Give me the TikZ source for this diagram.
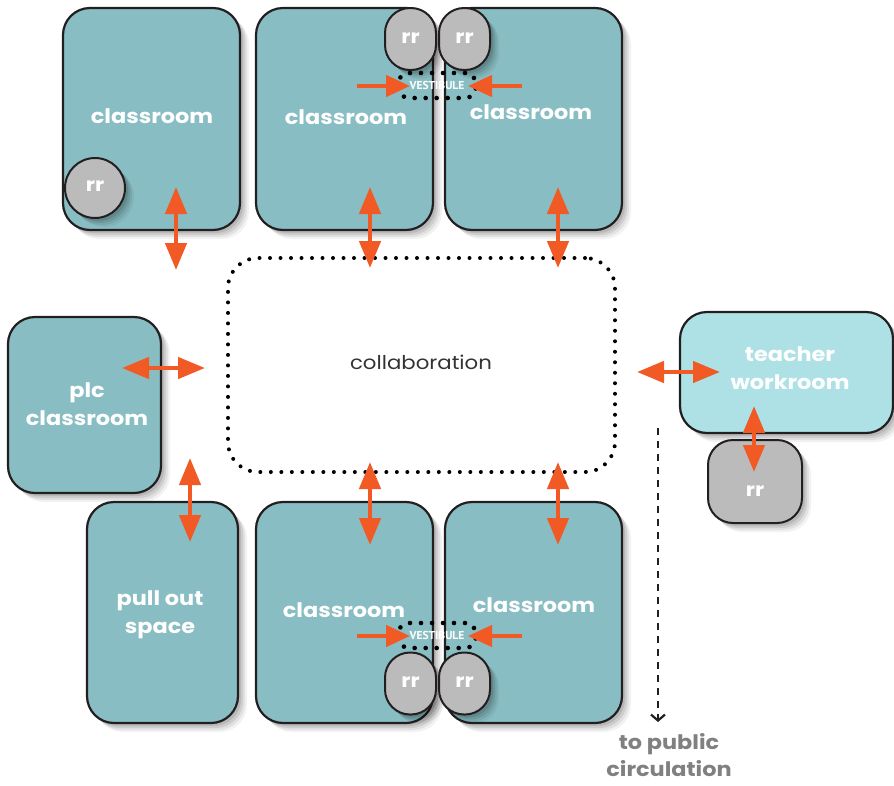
\documentclass[tikz,border=0pt]{standalone}
\usepackage{fontspec}
\setmainfont{Poppins}
\newfontfamily\gfont{Poppins}[FakeStretch=1.12]
\newfontfamily\vfont{PT Sans}
\usetikzlibrary{arrows.meta,shadows}
\definecolor{teal}{HTML}{88BDC3}
\definecolor{lcyan}{HTML}{ADE1E6}
\definecolor{rrgray}{HTML}{BBBBBB}
\definecolor{edge}{HTML}{231F20}
\definecolor{orng}{HTML}{F15A24}
\definecolor{txtgray}{HTML}{808080}
\definecolor{dk}{HTML}{333333}
\tikzset{
  shad/.style={
    drop shadow={shadow xshift=9pt,shadow yshift=-9pt,opacity=0.05,fill=black},
    drop shadow={shadow xshift=7pt,shadow yshift=-7pt,opacity=0.07,fill=black},
    drop shadow={shadow xshift=5pt,shadow yshift=-5pt,opacity=0.09,fill=black},
    drop shadow={shadow xshift=3pt,shadow yshift=-3pt,opacity=0.10,fill=black}},
  room/.style={draw=edge,line width=2.2pt,fill=teal,rounded corners=27pt,shad,inner sep=0pt},
  rrpill/.style={draw=edge,line width=2pt,fill=rrgray,rounded corners=25pt,shad,inner sep=0pt,minimum width=51pt,minimum height=62pt},
  lbl/.style={text=white,align=center,font=\gfont\bfseries\fontsize{20}{28}\selectfont,inner sep=0pt},
  rrlbl/.style={text=white,font=\gfont\bfseries\fontsize{19}{22}\selectfont,inner sep=0pt},
  dots/.style={draw=black,line width=4pt,line cap=round,dash pattern=on 0pt off 10.5pt},
  vdots/.style={draw=black,line width=4.6pt,line cap=round,dash pattern=on 0pt off 11pt,rounded corners=11pt,minimum width=78pt,minimum height=25pt,inner sep=0pt},
  vlbl/.style={text=white,font=\vfont\bfseries\fontsize{11.5}{12}\selectfont,inner sep=0pt},
  dbl/.style={draw=orng,line width=4.5pt,{Triangle[width=21pt,length=27pt]}-{Triangle[width=21pt,length=27pt]}},
  sgl/.style={draw=orng,line width=4.5pt,-{Triangle[width=21pt,length=24pt]}},
}
\begin{document}
\begin{tikzpicture}[x=1pt,y=-1pt]
\useasboundingbox (0,0) rectangle (894,785);
% rooms
\node[room,minimum width=177pt,minimum height=222pt] (cTL) at (151.5,119) {};
\node[room,minimum width=177pt,minimum height=222pt] (cTM) at (344.5,119) {};
\node[room,minimum width=177pt,minimum height=222pt] (cTR) at (533.5,119) {};
\node[room,minimum width=153pt,minimum height=176pt] (plc) at (84.5,405) {};
\node[room,minimum width=151pt,minimum height=221pt] (pull) at (162.5,612.5) {};
\node[room,minimum width=177pt,minimum height=221pt] (cBM) at (344.5,612.5) {};
\node[room,minimum width=177pt,minimum height=221pt] (cBR) at (533.5,612.5) {};
\node[room,fill=lcyan,minimum width=213pt,minimum height=121pt] (tw) at (786.5,372.5) {};
% restrooms
\node[circle,draw=edge,line width=2pt,fill=rrgray,shad,minimum size=60pt,inner sep=0pt] (rrTL) at (95,188) {};
\node[rrpill] (rrT1) at (410.5,39) {};
\node[rrpill] (rrT2) at (464.5,39) {};
\node[rrpill] (rrB1) at (410.5,683.5) {};
\node[rrpill] (rrB2) at (464.5,683.5) {};
\node[draw=edge,line width=2pt,fill=rrgray,rounded corners=25pt,shad,minimum width=94pt,minimum height=83pt,inner sep=0pt] (rrW) at (755,481.5) {};
% vestibules and collaboration
\node[vdots] (vT) at (437,85.5) {};
\node[vdots] (vB) at (437,635.5) {};
\node[dots,rounded corners=30pt,minimum width=387pt,minimum height=214pt,inner sep=0pt] (collab) at (421.5,365) {};
% labels
\node[lbl] (tTL) at (152,116) {classroom};
\node[lbl] (tTM) at (346,117) {classroom};
\node[lbl] (tTR) at (531,112) {classroom};
\node[lbl] (tBM) at (344,610) {classroom};
\node[lbl] (tBR) at (534,605) {classroom};
\node[lbl] (tplc) at (87,404) {plc\\classroom};
\node[lbl] (tpull) at (160,615) {pull out\\space};
\node[lbl] (ttw) at (790,368) {teacher\\workroom};
\node[rrlbl] (lrrTL) at (95,186) {rr};
\node[rrlbl] (lrrT1) at (410.5,38) {rr};
\node[rrlbl] (lrrT2) at (464.5,38) {rr};
\node[rrlbl] (lrrB1) at (410.5,682) {rr};
\node[rrlbl] (lrrB2) at (464.5,682) {rr};
\node[rrlbl] (lrrW) at (755,491) {rr};
\node[vlbl] (lvT) at (vT) {VESTIBULE};
\node[vlbl] (lvB) at (vB) {VESTIBULE};
\node[text=dk,font=\gfont\fontsize{19}{22}\selectfont,inner sep=0pt] (tcol) at (421,362) {collaboration};
\node[text=txtgray,align=center,font=\gfont\bfseries\fontsize{20}{27}\selectfont,inner sep=0pt] (tpub) at (669,755) {to public\\circulation};
% arrow end points
\coordinate (a1) at (176,187); \coordinate (b1) at (176,270);
\coordinate (a2) at (370,187); \coordinate (b2) at (370,268);
\coordinate (a3) at (558,187); \coordinate (b3) at (558,268);
\coordinate (a4) at (370,462); \coordinate (b4) at (370,545);
\coordinate (a5) at (558,462); \coordinate (b5) at (558,545);
\coordinate (a6) at (122,368); \coordinate (b6) at (205,368);
\coordinate (a7) at (190,458); \coordinate (b7) at (190,542);
\coordinate (a8) at (637,372); \coordinate (b8) at (720,372);
\coordinate (a9) at (754,406); \coordinate (b9) at (754,472);
\coordinate (vt1) at (357,86); \coordinate (vt1e) at (410,86);
\coordinate (vt2) at (522,86); \coordinate (vt2e) at (468,86);
\coordinate (vb1) at (357,636); \coordinate (vb1e) at (410,636);
\coordinate (vb2) at (522,636); \coordinate (vb2e) at (468,636);
\coordinate (d1) at (658,428); \coordinate (d2) at (658,722);
% arrows
\draw[dbl] (a1) -- (b1);
\draw[dbl] (a2) -- (b2);
\draw[dbl] (a3) -- (b3);
\draw[dbl] (a4) -- (b4);
\draw[dbl] (a5) -- (b5);
\draw[dbl] (a6) -- (b6);
\draw[dbl] (a7) -- (b7);
\draw[dbl] (a8) -- (b8);
\draw[dbl] (a9) -- (b9);
\draw[sgl] (vt1) -- (vt1e);
\draw[sgl] (vt2) -- (vt2e);
\draw[sgl] (vb1) -- (vb1e);
\draw[sgl] (vb2) -- (vb2e);
\draw[draw=edge,line width=2.2pt,dash pattern=on 7pt off 6pt,-{Straight Barb[length=6pt,width=14pt,line width=2.2pt]}] (d1) -- (d2);
\end{tikzpicture}
\end{document}
